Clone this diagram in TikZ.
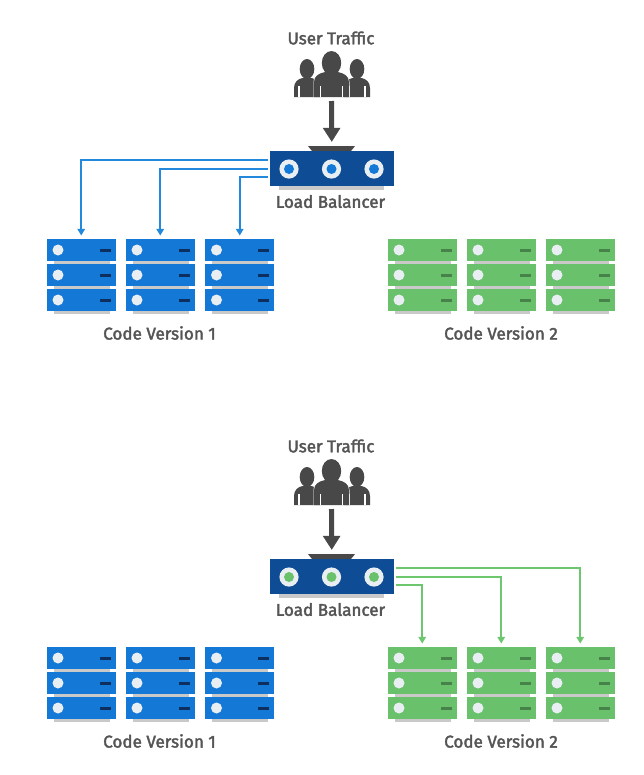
\documentclass[tikz,border=0pt]{standalone}
\usepackage{fontspec}
\setmainfont{Fira Sans}[RawFeature={embolden=2.2}]
\usetikzlibrary{arrows.meta}
\definecolor{rackblue}{HTML}{1479D6}
\definecolor{dashblue}{HTML}{0C2F60}
\definecolor{rackgreen}{HTML}{69C16B}
\definecolor{dashgreen}{HTML}{46824A}
\definecolor{lbblue}{HTML}{0F4C96}
\definecolor{shadowgrey}{HTML}{C9C9C9}
\definecolor{icongrey}{HTML}{484848}
\definecolor{textgrey}{HTML}{555555}
\definecolor{ringwhite}{HTML}{E8EEF2}
\definecolor{wireblue}{HTML}{2389DD}
\definecolor{wiregreen}{HTML}{6CC76E}
\tikzset{
  x=0.75pt,y=-0.75pt,
  rackrow/.style={rectangle,inner sep=0pt,outer sep=0pt,minimum width=52.1pt,minimum height=16.5pt},
  lbbox/.style={rectangle,fill=lbblue,inner sep=0pt,outer sep=0pt,minimum width=93.4pt,minimum height=26.6pt},
  label/.style={inner sep=0pt,text=textgrey,font=\fontsize{12.8}{15}\selectfont},
  crowd/.style={rectangle,inner sep=0pt,outer sep=0pt,minimum width=60pt,minimum height=34.5pt},
  wire/.style={line width=1.5pt,-{Triangle[length=5pt,width=5.6pt]},shorten >=2.6pt},
  flow/.style={draw=icongrey,line width=3.8pt,-{Triangle[length=10.5pt,width=12.5pt]}},
}
% person: centre x, head top, head half width, head bottom, body top, body half width, bottom
\newcommand\personfig[7]{%
  \fill[icongrey] (#1,{(#2+#4)/2}) ellipse [x radius=#3*0.75pt,y radius={(#4-(#2))*0.375pt}];
  \fill[icongrey] (#1-#6,#7) -- (#1-#6,#5+10) .. controls (#1-#6,#5+4) and (#1-#6*0.7,#5+1) .. (#1-#6*0.35,#5)
     -- (#1+#6*0.35,#5) .. controls (#1+#6*0.7,#5+1) and (#1+#6,#5+4) .. (#1+#6,#5+10) -- (#1+#6,#7) -- cycle;
  \draw[white,line width=0.9pt] (#1-#6*0.62,#7) -- (#1-#6*0.62,#7-11);
  \draw[white,line width=0.9pt] (#1+#6*0.62,#7) -- (#1+#6*0.62,#7-11);
}
\newcommand\rackstack[5]{% name, left x, top y, fill, dash
  \foreach \k/\off in {a/0,b/25,c/50}{
    \fill[shadowgrey] (#2+7,#3+\off+21) rectangle (#2+63,#3+\off+24.5);
    \node[rackrow,fill=#4,anchor=north west] (#1\k) at (#2,#3+\off) {};
    \fill[ringwhite] (#2+11.5,#3+\off+11) circle (5.5);
    \fill[#5] (#2+53,#3+\off+9.5) rectangle (#2+64,#3+\off+12.5);
  }
}
\newcommand\balancer[3]{% name, top y, inner colour
  \fill[shadowgrey] (279,#2+34) rectangle (384,#2+39);
  \fill[icongrey] (308,#2-5) -- (355,#2-5) -- (351,#2) -- (312,#2) -- cycle;
  \node[lbbox,anchor=north] (#1) at (331.8,#2) {};
  \foreach \cx in {289,331.5,374}{
    \fill[ringwhite] (\cx,#2+18) circle (9.6);
    \fill[#3] (\cx,#2+18) circle (5);
  }
}
\newcommand\crowdicon[2]{% name, top y
  \node[crowd,anchor=north] (#1) at (331.5,#2) {};
  \personfig{307}{#2+8}{7.3}{#2+28}{#2+27}{13}{#2+46}
  \personfig{357}{#2+8}{7.3}{#2+28}{#2+27}{13}{#2+46}
  \fill[white] (331.5,#2+46) -- (313.5,#2+46) -- (313.5,#2+31) .. controls (313.5,#2+25) and (318,#2+21) .. (324,#2+20) -- (339,#2+20) .. controls (345,#2+21) and (349.5,#2+25) .. (349.5,#2+31) -- (349.5,#2+46) -- cycle;
  \personfig{331.5}{#2}{9.7}{#2+24}{#2+21}{17.5}{#2+46}
}
\begin{document}
\begin{tikzpicture}
\useasboundingbox (0,0) rectangle (643,775);
\fill[white] (0,0) rectangle (643,775);

% ---------- upper half
\node[label] (ut1) at (331,38) {User Traffic};
\crowdicon{users1}{51}
\balancer{lb1}{151}{rackblue}
\node[label] (lbl1) at (330.5,201.5) {Load Balancer};
\rackstack{ra}{46.5}{239}{rackblue}{dashblue}
\rackstack{rb}{125.5}{239}{rackblue}{dashblue}
\rackstack{rc}{205}{239}{rackblue}{dashblue}
\rackstack{rd}{387.5}{239}{rackgreen}{dashgreen}
\rackstack{re}{466.5}{239}{rackgreen}{dashgreen}
\rackstack{rf}{545.5}{239}{rackgreen}{dashgreen}
\node[label] (cv11) at (159.5,333) {Code Version 1};
\node[label] (cv12) at (501,333) {Code Version 2};
\draw[flow,shorten <=3pt,shorten >=6.8pt] (users1.south) -- (lb1.north);
\draw[wire,draw=wireblue,shorten <=1.5pt] ([yshift=6.6pt]lb1.west) -| (raa.north);
\draw[wire,draw=wireblue,shorten <=1.5pt] (lb1.west) -| (rba.north);
\draw[wire,draw=wireblue,shorten <=1.5pt] ([yshift=-6.2pt]lb1.west) -| (rca.north);

% ---------- lower half
\node[label] (ut2) at (331,446) {User Traffic};
\crowdicon{users2}{459}
\balancer{lb2}{559}{rackgreen}
\node[label] (lbl2) at (330.5,609.5) {Load Balancer};
\rackstack{sa}{46.5}{647}{rackblue}{dashblue}
\rackstack{sb}{125.5}{647}{rackblue}{dashblue}
\rackstack{sc}{205}{647}{rackblue}{dashblue}
\rackstack{sd}{387.5}{647}{rackgreen}{dashgreen}
\rackstack{se}{466.5}{647}{rackgreen}{dashgreen}
\rackstack{sf}{545.5}{647}{rackgreen}{dashgreen}
\node[label] (cv21) at (159.5,741) {Code Version 1};
\node[label] (cv22) at (501,741) {Code Version 2};
\draw[flow,shorten <=3pt,shorten >=6.8pt] (users2.south) -- (lb2.north);
\draw[wire,draw=wiregreen,shorten <=1.5pt] ([yshift=6.6pt]lb2.east) -| (sfa.north);
\draw[wire,draw=wiregreen,shorten <=1.5pt] (lb2.east) -| (sea.north);
\draw[wire,draw=wiregreen,shorten <=1.5pt] ([yshift=-6.2pt]lb2.east) -| (sda.north);
\end{tikzpicture}
\end{document}
